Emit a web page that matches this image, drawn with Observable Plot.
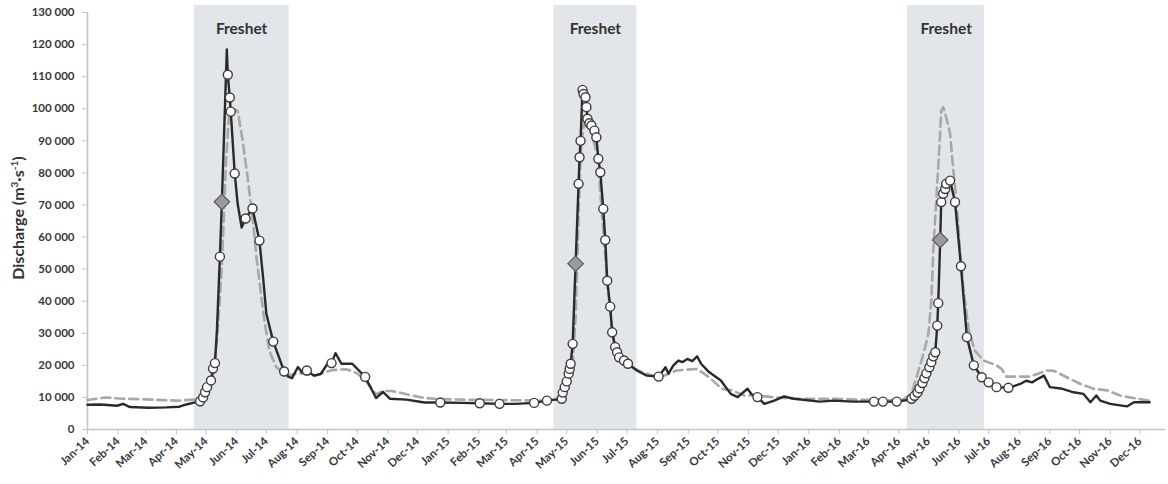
<!DOCTYPE html>
<html>
<head>
<meta charset="utf-8">
<script src="https://cdn.jsdelivr.net/npm/d3@7"></script>
<script src="https://cdn.jsdelivr.net/npm/@observablehq/plot@0.6"></script>
<style>
  html, body { margin: 0; padding: 0; background: #fff; }
  #chart svg { display: block; }
</style>
</head>
<body>
<div id="chart"></div>
<script>
// ---------- data ----------
const freshetStart = ["2014-04-19", "2015-04-18", "2016-04-10"];
const freshetEnd   = ["2014-07-24", "2015-07-11", "2016-06-27"];
const freshetLabel = "Freshet";

// Observed discharge (solid black)
const obsDates = [
  "2014-01-01","2014-01-14","2014-01-31","2014-02-06","2014-02-13","2014-03-04","2014-03-22","2014-04-04","2014-04-11","2014-04-18",
  "2014-04-25","2014-04-28","2014-04-30","2014-05-02","2014-05-06","2014-05-08","2014-05-10","2014-05-12","2014-05-15","2014-05-17",
  "2014-05-22","2014-05-23","2014-05-25","2014-05-26","2014-05-30","2014-06-02","2014-06-06","2014-06-10","2014-06-17","2014-06-24",
  "2014-06-28","2014-07-01","2014-07-08","2014-07-19","2014-07-23","2014-07-27","2014-08-02","2014-08-06","2014-08-11","2014-08-18",
  "2014-08-25","2014-09-01","2014-09-05","2014-09-09","2014-09-15","2014-09-26","2014-10-09","2014-10-20","2014-10-27","2014-11-03",
  "2014-11-20","2014-12-08","2014-12-24","2015-01-15","2015-02-02","2015-02-22","2015-03-10","2015-03-29","2015-04-11","2015-04-20",
  "2015-04-26","2015-04-27","2015-04-29","2015-05-01","2015-05-03","2015-05-04","2015-05-05","2015-05-07","2015-05-10","2015-05-13",
  "2015-05-14","2015-05-15","2015-05-17","2015-05-18","2015-05-20","2015-05-21","2015-05-22","2015-05-24","2015-05-26","2015-05-29",
  "2015-05-31","2015-06-02","2015-06-04","2015-06-07","2015-06-09","2015-06-11","2015-06-14","2015-06-16","2015-06-19","2015-06-21",
  "2015-06-23","2015-06-28","2015-07-02","2015-07-11","2015-07-21","2015-08-02","2015-08-09","2015-08-12","2015-08-17","2015-08-22",
  "2015-08-26","2015-08-31","2015-09-05","2015-09-10","2015-09-14","2015-09-22","2015-10-04","2015-10-14","2015-10-21","2015-10-31",
  "2015-11-04","2015-11-10","2015-11-17","2015-11-27","2015-12-07","2015-12-17","2016-01-12","2016-01-26","2016-02-15","2016-03-07",
  "2016-03-16","2016-03-30","2016-04-10","2016-04-14","2016-04-17","2016-04-20","2016-04-22","2016-04-25","2016-04-27","2016-04-29",
  "2016-05-02","2016-05-04","2016-05-06","2016-05-08","2016-05-10","2016-05-11","2016-05-13","2016-05-14","2016-05-16","2016-05-18",
  "2016-05-19","2016-05-23","2016-05-28","2016-06-03","2016-06-09","2016-06-16","2016-06-24","2016-07-01","2016-07-09","2016-07-21",
  "2016-08-02","2016-08-08","2016-08-14","2016-08-20","2016-08-26","2016-09-01","2016-09-12","2016-09-25","2016-10-05","2016-10-12",
  "2016-10-18","2016-10-22","2016-11-01","2016-11-18","2016-11-25","2016-12-11"
];
const obsQ = [
  7700,7800,7400,8000,7000,6800,6900,7100,7800,8300,
  8800,10000,11600,13200,15300,19000,20700,31000,53900,71000,
  118500,110600,103500,99100,79800,70300,63000,65800,68900,58900,
  46400,36100,27400,18100,16500,16000,19500,17800,18400,16800,
  17300,20500,20700,23800,20500,20500,16400,9800,11700,9600,
  9300,8400,8400,8300,8200,8000,8000,8300,9000,9300,
  9600,11500,13200,15000,17400,18900,20500,26700,51700,76600,
  84900,90000,105900,104600,103600,100500,96900,95500,94800,93200,
  91100,84400,80200,68800,59100,46400,38300,30300,25700,24100,
  22500,21500,20500,18400,16800,16500,19400,17400,20000,21500,
  21000,22000,21300,22800,20500,17900,15300,11100,10100,12700,
  11000,10100,8000,9000,10300,9600,8700,9000,8700,8700,
  8700,8700,9200,9600,10500,11500,12800,14500,16000,17500,
  19400,21000,22800,24100,32400,39400,59100,70900,73500,75000,
  76600,77600,70900,50900,28800,20000,16300,14700,13200,13000,
  14200,15200,14700,15800,16800,13200,12800,11600,11100,8500,
  10600,9000,8000,7200,8500,8500
];

// Modelled discharge (grey dashed)
const modDates = [
  "2014-01-01","2014-01-19","2014-02-05","2014-03-01","2014-04-01","2014-04-19","2014-05-01","2014-05-08","2014-05-12","2014-05-15",
  "2014-05-17","2014-05-19","2014-05-21","2014-05-24","2014-05-28","2014-06-02","2014-06-07","2014-06-12","2014-06-17","2014-06-21",
  "2014-06-26","2014-06-29","2014-07-04","2014-07-11","2014-07-23","2014-08-05","2014-08-20","2014-09-05","2014-09-20","2014-10-01",
  "2014-10-10","2014-10-20","2014-10-27","2014-11-05","2014-11-20","2014-12-05","2014-12-20","2015-01-15","2015-02-15","2015-03-15",
  "2015-04-10","2015-04-20","2015-05-01","2015-05-07","2015-05-10","2015-05-12","2015-05-14","2015-05-16","2015-05-19","2015-05-22",
  "2015-05-27","2015-06-01","2015-06-05","2015-06-08","2015-06-11","2015-06-14","2015-06-17","2015-06-20","2015-06-27","2015-07-05",
  "2015-07-15","2015-07-25","2015-08-05","2015-08-20","2015-09-10","2015-09-22","2015-10-05","2015-10-15","2015-10-28","2015-11-10",
  "2015-11-25","2015-12-15","2016-01-26","2016-02-20","2016-03-20","2016-04-05","2016-04-14","2016-04-26","2016-05-01","2016-05-04",
  "2016-05-06","2016-05-09","2016-05-12","2016-05-14","2016-05-16","2016-05-19","2016-05-23","2016-05-26","2016-05-30","2016-06-02",
  "2016-06-06","2016-06-11","2016-06-17","2016-06-26","2016-07-09","2016-07-14","2016-07-19","2016-08-12","2016-08-29","2016-09-05",
  "2016-09-18","2016-10-02","2016-10-15","2016-10-29","2016-11-11","2016-11-28","2016-12-11"
];
const modQ = [
  9200,10000,9600,9400,9000,9300,11000,17000,27700,41200,
  51600,66200,82800,97400,100000,99400,90100,78700,66200,53700,
  41200,34000,24600,19400,17000,17500,16800,18500,18800,17500,
  15000,11000,12000,12000,11000,10000,9500,9300,9200,9100,
  9000,9500,12000,20000,35000,55000,78000,90000,96000,95000,
  92000,85000,70000,58000,46000,37000,29000,24000,21000,19500,
  18000,17000,16500,18400,18900,16300,12700,12200,10600,10600,
  10100,9600,9600,9300,9200,9300,11100,23600,29800,40200,
  55800,71400,87000,99400,100500,97400,92200,81800,69300,55800,
  42300,30900,24600,21500,20000,18900,16500,16500,18400,18300,
  16300,14200,12700,12200,10600,9600,9000
];

// Sampling dates (open circles) on the observed hydrograph
const sampleDates = [
  "2014-04-25","2014-04-28","2014-04-30","2014-05-02","2014-05-06","2014-05-08","2014-05-10","2014-05-15","2014-05-23","2014-05-25",
  "2014-05-26","2014-05-30","2014-06-10","2014-06-17","2014-06-24","2014-07-08","2014-07-19","2014-08-11","2014-09-05","2014-10-09",
  "2014-12-24","2015-02-02","2015-02-22","2015-03-29","2015-04-11","2015-04-26","2015-04-27","2015-04-29","2015-05-01","2015-05-03",
  "2015-05-04","2015-05-05","2015-05-07","2015-05-13","2015-05-14","2015-05-15","2015-05-17","2015-05-18","2015-05-20","2015-05-21",
  "2015-05-22","2015-05-24","2015-05-26","2015-05-29","2015-05-31","2015-06-02","2015-06-04","2015-06-07","2015-06-09","2015-06-11",
  "2015-06-14","2015-06-16","2015-06-19","2015-06-21","2015-06-23","2015-06-28","2015-07-02","2015-08-02","2015-11-10","2016-03-07",
  "2016-03-16","2016-03-30","2016-04-14","2016-04-17","2016-04-20","2016-04-22","2016-04-25","2016-04-27","2016-04-29","2016-05-02",
  "2016-05-04","2016-05-06","2016-05-08","2016-05-10","2016-05-11","2016-05-14","2016-05-16","2016-05-18","2016-05-19","2016-05-23",
  "2016-05-28","2016-06-03","2016-06-09","2016-06-16","2016-06-24","2016-07-01","2016-07-09","2016-07-21"
];
const sampleQ = [
  8800,10000,11600,13200,15300,19000,20700,53900,110600,103500,
  99100,79800,65800,68900,58900,27400,18100,18400,20700,16400,
  8400,8200,8000,8300,9000,9600,11500,13200,15000,17400,
  18900,20500,26700,76600,84900,90000,105900,104600,103600,100500,
  96900,95500,94800,93200,91100,84400,80200,68800,59100,46400,
  38300,30300,25700,24100,22500,21500,20500,16500,10100,8700,
  8700,8700,9600,10500,11500,12800,14500,16000,17500,19400,
  21000,22800,24100,32400,39400,70900,73500,75000,76600,77600,
  70900,50900,28800,20000,16300,14700,13200,13000
];

// Grey diamonds
const peakDates = ["2014-05-17", "2015-05-10", "2016-05-13"];
const peakQ = [71000, 51700, 59100];

const yTicks = [0,10000,20000,30000,40000,50000,60000,70000,80000,90000,100000,110000,120000,130000];
const xStart = "2014-01-01", xEnd = "2016-12-27";

// ---------- build tables ----------
const D = s => new Date(s + "T00:00:00Z");
const obs = obsDates.map((d, i) => ({date: D(d), q: obsQ[i]}));
const mod = modDates.map((d, i) => ({date: D(d), q: modQ[i]}));
const samples = sampleDates.map((d, i) => ({date: D(d), q: sampleQ[i]}));
const peaks = peakDates.map((d, i) => ({date: D(d), q: peakQ[i]}));
const freshets = freshetStart.map((s, i) => ({start: D(s), end: D(freshetEnd[i]), label: freshetLabel}));
const months = d3.utcMonth.range(D(xStart), D(xEnd));

const fmt = d3.formatLocale({decimal: ".", thousands: "\u00a0", grouping: [3], currency: ["", ""]}).format(",d");
const axisColor = "#c4c4c4";
const textColor = "#383838";

const chart = Plot.plot({
  width: 1168,
  height: 484,
  marginLeft: 87,
  marginRight: 3,
  marginTop: 5,
  marginBottom: 55,
  style: {fontFamily: "Lato, 'Open Sans', sans-serif", background: "#fff"},
  x: {type: "utc", domain: [D(xStart), D(xEnd)]},
  y: {domain: [0, 132200]},
  marks: [
    Plot.rect(freshets, {x1: "start", x2: "end", fill: "#e2e6ea"}),
    Plot.text(freshets, {
      x: d => new Date((+d.start + +d.end) / 2), text: "label", frameAnchor: "top", dy: 17,
      fontWeight: "bold", fontSize: 15.5, fill: "#333"
    }),
    Plot.ruleY([0], {stroke: axisColor, strokeWidth: 1.6}),
    Plot.ruleX([D(xStart)], {y1: 0, y2: 130000, stroke: axisColor, strokeWidth: 1.6}),
    Plot.axisX({
      ticks: months, tickFormat: d3.utcFormat("%b-%y"), tickRotate: -43, tickSize: 5, tickPadding: 5,
      stroke: axisColor, fill: textColor, fontWeight: "bold", fontSize: 11.5, label: null
    }),
    Plot.axisY({
      ticks: yTicks, tickFormat: fmt, tickSize: 5, tickPadding: 8,
      stroke: axisColor, fill: textColor, fontWeight: "bold", fontSize: 11.5, label: null
    }),
    Plot.line(mod, {x: "date", y: "q", stroke: "#a8a8a8", strokeWidth: 2.6, strokeDasharray: "9,5"}),
    Plot.line(obs, {x: "date", y: "q", stroke: "#2a2a2a", strokeWidth: 2.4}),
    Plot.dot(samples, {x: "date", y: "q", r: 4.5, fill: "white", stroke: "#3c3c3c", strokeWidth: 1.4}),
    Plot.dot(peaks, {x: "date", y: "q", symbol: "diamond2", r: 7, fill: "#9b9b9b", stroke: "#5a5a5a", strokeWidth: 1.2})
  ]
});

// Y-axis title with superscripts
const svg = d3.select(chart);
const t = svg.append("text")
  .attr("transform", "translate(24,218) rotate(-90)")
  .attr("text-anchor", "middle")
  .attr("font-family", "Lato, 'Open Sans', sans-serif")
  .attr("font-weight", "bold")
  .attr("font-size", 16)
  .attr("fill", "#333");
t.append("tspan").text("Discharge (m");
t.append("tspan").attr("baseline-shift", "super").attr("font-size", 10).text("3");
t.append("tspan").text("\u00b7s");
t.append("tspan").attr("baseline-shift", "super").attr("font-size", 10).text("-1");
t.append("tspan").text(")");

document.getElementById("chart").append(chart);
</script>
</body>
</html>
